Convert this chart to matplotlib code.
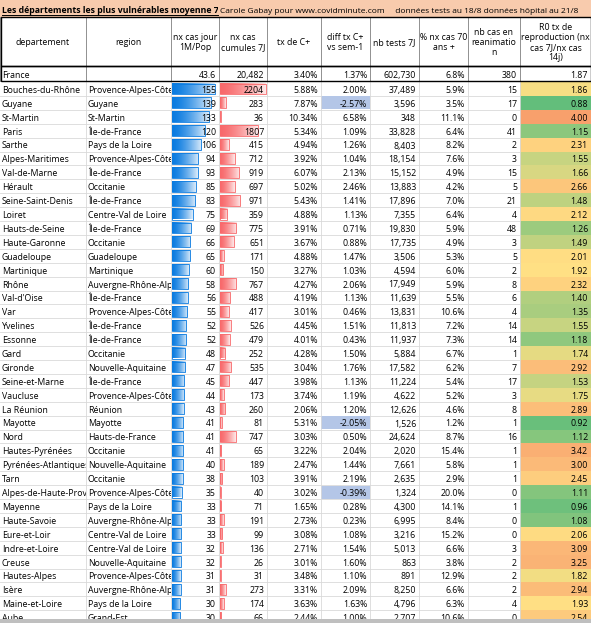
import matplotlib
matplotlib.use("Agg")
import matplotlib.pyplot as plt
import numpy as np
from matplotlib.colors import LinearSegmentedColormap, to_rgb

plt.rcParams['font.family'] = ['Open Sans', 'DejaVu Sans']

title = "Les départements les plus vulnérables moyenne 7 jour"
subtitle = "Carole Gabay pour www.covidminute.com     données tests au 18/8 données hôpital au 21/8"
headers = ["departement", "region", "nx cas jour\n1M/Pop", "nx cas\ncumules 7J", "tx de C+",
           "diff tx C+\nvs sem-1", "nb tests 7J", "% nx cas 70\nans +", "nb cas en\nreanimatio\nn",
           "R0 tx de\nreproduction (nx\ncas 7J/nx cas\n14j)"]
france = ["France", "", "43.6", "20,482", "3.40%", "1.37%", "602,730", "6.8%", "380", "1.87"]

depts = ["Bouches-du-Rhône","Guyane","St-Martin","Paris","Sarthe","Alpes-Maritimes","Val-de-Marne","Hérault",
 "Seine-Saint-Denis","Loiret","Hauts-de-Seine","Haute-Garonne","Guadeloupe","Martinique","Rhône","Val-d'Oise",
 "Var","Yvelines","Essonne","Gard","Gironde","Seine-et-Marne","Vaucluse","La Réunion","Mayotte","Nord",
 "Hautes-Pyrénées","Pyrénées-Atlantiques","Tarn","Alpes-de-Haute-Provence","Mayenne","Haute-Savoie",
 "Eure-et-Loir","Indre-et-Loire","Creuse","Hautes-Alpes","Isère","Maine-et-Loire","Aube"]
regions = ["Provence-Alpes-Côte","Guyane","St-Martin","Île-de-France","Pays de la Loire","Provence-Alpes-Côte",
 "Île-de-France","Occitanie","Île-de-France","Centre-Val de Loire","Île-de-France","Occitanie","Guadeloupe",
 "Martinique","Auvergne-Rhône-Alpes","Île-de-France","Provence-Alpes-Côte","Île-de-France","Île-de-France",
 "Occitanie","Nouvelle-Aquitaine","Île-de-France","Provence-Alpes-Côte","Réunion","Mayotte","Hauts-de-France",
 "Occitanie","Nouvelle-Aquitaine","Occitanie","Provence-Alpes-Côte","Pays de la Loire","Auvergne-Rhône-Alpes",
 "Centre-Val de Loire","Centre-Val de Loire","Nouvelle-Aquitaine","Provence-Alpes-Côte","Auvergne-Rhône-Alpes",
 "Pays de la Loire","Grand-Est"]
cas_jour = [155,139,133,120,106,94,93,85,83,75,69,66,65,60,58,56,55,52,52,48,47,45,44,43,41,41,41,40,38,35,33,33,33,32,32,31,31,30,30]
cas_7j = [2204,283,36,1807,415,712,919,697,971,359,775,651,171,150,767,488,417,526,479,252,535,447,173,260,81,747,65,189,103,40,71,191,99,136,26,31,273,174,66]
tx_pos = [5.88,7.87,10.34,5.34,4.94,3.92,6.07,5.02,5.43,4.88,3.91,3.67,4.88,3.27,4.27,4.19,3.01,4.45,4.01,4.28,3.04,3.98,3.74,2.06,5.31,3.03,3.22,2.47,3.91,3.02,1.65,2.73,3.08,2.71,3.01,3.48,3.31,3.63,2.44]
diff_tx = [2.00,-2.57,6.58,1.09,1.26,1.04,2.13,2.46,1.41,1.13,0.71,0.88,1.47,1.03,2.06,1.13,0.46,1.51,0.43,1.50,1.76,1.13,1.19,1.20,-2.05,0.50,2.04,1.44,2.19,-0.39,0.28,0.23,1.08,1.54,1.60,1.10,2.09,1.63,1.00]
tests = [37489,3596,348,33828,8403,18154,15152,13883,17896,7355,19830,17735,3506,4594,17949,11639,13831,11813,11937,5884,17582,11224,4622,12626,1526,24624,2020,7661,2635,1324,4300,6995,3216,5013,863,891,8250,4796,2707]
pct70 = [5.9,3.5,11.1,6.4,8.2,7.6,4.9,4.2,7.0,6.4,5.9,4.9,5.3,6.0,5.9,5.5,10.6,7.2,7.3,6.7,6.2,5.4,5.2,4.6,1.2,8.7,15.4,5.8,2.9,20.0,14.1,8.4,15.2,6.6,3.8,12.9,6.6,6.3,10.6]
rea = [15,17,0,41,2,3,15,5,21,4,48,3,5,2,8,6,4,14,14,1,7,17,3,8,1,16,1,1,1,0,1,0,0,3,2,2,2,4,0]
r0 = [1.86,0.88,4.00,1.15,2.31,1.55,1.66,2.66,1.48,2.12,1.26,1.49,2.01,1.92,2.32,1.40,1.35,1.55,1.18,1.74,2.92,1.53,1.75,2.89,0.92,1.12,3.42,3.00,2.45,1.11,0.96,1.08,2.06,3.09,3.25,1.82,2.94,1.93,2.54]

W, H = 591, 623
fig = plt.figure(figsize=(W/100, H/100), dpi=100)
ax = fig.add_axes([0, 0, 1, 1])
ax.set_xlim(0, W); ax.set_ylim(H, 0); ax.axis('off')

cols = [0, 86, 171, 219, 267, 321, 370, 419, 468, 520, 591]
fs = 6.3
grid = '#D9D9D9'

def clipped_text(x, y, s, x0, x1, y0c, y1c, **kw):
    t = ax.text(x, y, s, clip_on=True, **kw)
    rect = plt.Rectangle((x0, y0c), x1 - x0, y1c - y0c, transform=ax.transData, fill=False, lw=0)
    ax.add_patch(rect)
    t.set_clip_path(rect)
    return t

ax.add_patch(plt.Rectangle((0, 0), W, 17, color='#F8CBAD', lw=0))
clipped_text(2, 13, title, 0, cols[3] - 1, 0, 17, fontsize=fs, fontweight='bold', va='baseline')
ax.plot([2, cols[3] - 1], [15, 15], color='black', lw=0.7)
ax.text(cols[3] + 1, 13, subtitle, fontsize=6.0, va='baseline')

hdr_top, hdr_bot = 17, 66
fr_bot = 81
row_h = 13.9
y0 = 82

for i, h in enumerate(headers):
    cx = (cols[i] + cols[i+1]) / 2
    ax.text(cx, (hdr_top + hdr_bot) / 2 + 1, h, fontsize=fs, ha='center', va='center', linespacing=1.15)
for i, v in enumerate(france):
    yb = fr_bot - 3
    if i < 2:
        ax.text(cols[i] + 2, yb, v, fontsize=fs, va='baseline')
    else:
        ax.text(cols[i+1] - 3, yb, v, fontsize=fs, va='baseline', ha='right')

cmap = LinearSegmentedColormap.from_list('r0', [(0, '#63BE7B'), (0.33, '#FFE084'), (0.7, '#FBB877'), (1, '#F8A06C')])
rmin, rmax = 0.88, 4.0

n = len(depts)
bx1, bw1 = cols[2] + 1, 43
bx2, bw2 = cols[3] + 1, 46
for r in range(n):
    top = y0 + r * row_h
    bot = top + row_h
    yb = bot - 3
    c = cmap((r0[r] - rmin) / (rmax - rmin))
    ax.add_patch(plt.Rectangle((cols[9], top), cols[10] - cols[9], row_h, color=c, lw=0))
    if diff_tx[r] < 0:
        ax.add_patch(plt.Rectangle((cols[5], top + 0.5), cols[6] - cols[5], row_h - 1, color='#B4C6E7', lw=0))
    for val, vmax, bx, bw, col in [(cas_jour[r], 155, bx1, bw1, '#0A7BE0'), (cas_7j[r], 2204, bx2, bw2, '#F8696B')]:
        L = bw * val / vmax
        if L <= 0:
            continue
        rgb = np.array(to_rgb(col))
        t = np.linspace(0, 1, 50)[None, :, None] ** 1.5
        img = rgb * (1 - 0.85 * t) + np.ones(3) * 0.85 * t
        ax.imshow(img, extent=(bx, bx + L, bot - 1.5, top + 1.5), aspect='auto', zorder=2, interpolation='bilinear')
        ax.add_patch(plt.Rectangle((bx, top + 1.5), L, row_h - 3, fill=False, ec=col, lw=0.6, zorder=3))
    clipped_text(cols[0] + 2, yb, depts[r], cols[0], cols[1] - 0.5, top, bot, fontsize=fs, va='baseline', zorder=4)
    clipped_text(cols[1] + 2, yb, regions[r], cols[1], cols[2] - 0.5, top, bot, fontsize=fs, va='baseline', zorder=4)
    vals = [f"{cas_jour[r]}", f"{cas_7j[r]}", f"{tx_pos[r]:.2f}%", f"{diff_tx[r]:.2f}%",
            f"{tests[r]:,}", f"{pct70[r]:.1f}%", f"{rea[r]}", f"{r0[r]:.2f}"]
    for j, v in enumerate(vals):
        ax.text(cols[j+3] - 3, yb, v, fontsize=fs, va='baseline', ha='right', zorder=5)
    ax.plot([0, W], [bot, bot], color=grid, lw=0.6, zorder=1)

for x in cols[1:-1]:
    ax.plot([x, x], [y0, H], color=grid, lw=0.6, zorder=1)

for x in cols:
    ax.plot([x, x], [hdr_top, fr_bot], color='#7F7F7F', lw=0.6, zorder=6)
ax.add_patch(plt.Rectangle((0.5, hdr_top), W - 1, hdr_bot - hdr_top, fill=False, ec='black', lw=1, zorder=7))
ax.add_patch(plt.Rectangle((0.5, hdr_bot), W - 1, fr_bot - hdr_bot, fill=False, ec='black', lw=1, zorder=7))
ax.add_patch(plt.Rectangle((0, H - 4), W, 4, color='#BFBFBF', lw=0, zorder=8))

fig.savefig("out.png", dpi=100)
